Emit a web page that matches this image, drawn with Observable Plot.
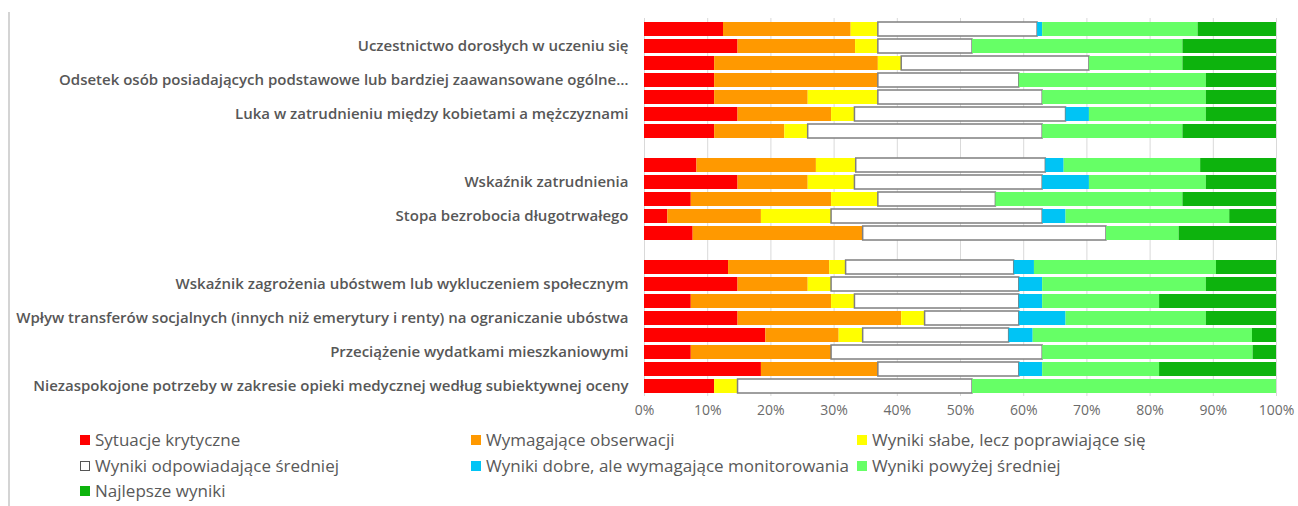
<!DOCTYPE html>
<html>
<head>
<meta charset="utf-8">
<script src="https://cdn.jsdelivr.net/npm/d3@7"></script>
<script src="https://cdn.jsdelivr.net/npm/@observablehq/plot@0.6"></script>
<style>
  html, body { margin: 0; padding: 0; background: #fff; }
  #wrap { position: relative; width: 1298px; height: 506px; overflow: hidden; font-family: "Open Sans", sans-serif; }
  #frame { position: absolute; left: 8px; top: 12px; width: 2px; height: 494px; background: #d4d4d4; }
  #chart { position: absolute; left: 0; top: 0; }
  #legend { position: absolute; left: 0; top: 429px; width: 1298px; }
  .item { position: absolute; display: flex; align-items: center; font-size: 17px; line-height: 22px; color: #595959; white-space: nowrap; }
  .sw { width: 10px; height: 10px; margin-right: 5px; box-sizing: border-box; }
</style>
</head>
<body>
<div id="wrap">
  <div id="frame"></div>
  <div id="chart"></div>
  <div id="legend"></div>
</div>
<script>
// Categories (legend order) and their colours
const categories = [
  "Sytuacje krytyczne",
  "Wymagające obserwacji",
  "Wyniki słabe, lecz poprawiające się",
  "Wyniki odpowiadające średniej",
  "Wyniki dobre, ale wymagające monitorowania",
  "Wyniki powyżej średniej",
  "Najlepsze wyniki"
];
const colors = ["#ff0000", "#ff9900", "#ffff00", "#ffffff", "#00c4f5", "#66ff66", "#0db30d"];

// Bar labels (20 bars, top to bottom); "" = unlabeled bar
const labels = [
  "", "Uczestnictwo dorosłych w uczeniu się", "",
  "Odsetek osób posiadających podstawowe lub bardziej zaawansowane ogólne…", "",
  "Luka w zatrudnieniu między kobietami a mężczyznami", "",
  "", "Wskaźnik zatrudnienia", "", "Stopa bezrobocia długotrwałego", "",
  "", "Wskaźnik zagrożenia ubóstwem lub wykluczeniem społecznym", "",
  "Wpływ transferów socjalnych (innych niż emerytury i renty) na ograniczanie ubóstwa", "",
  "Przeciążenie wydatkami mieszkaniowymi", "",
  "Niezaspokojone potrzeby w zakresie opieki medycznej według subiektywnej oceny"
];
// Group of each bar (blank row between groups)
const groups = [1,1,1,1,1,1,1, 2,2,2,2,2, 3,3,3,3,3,3,3,3];

// Shares (%) per category for each bar
const red    = [12.5,14.8,11.1,11.1,11.1,14.8,11.1,  8.3,14.8,7.4,3.7,7.7,  13.3,14.8,7.4,14.8,19.2,7.4,18.5,11.1];
const orange = [20.2,18.6,25.9,25.9,14.8,14.8,11.1,  18.9,11.1,22.2,14.8,26.9,  16.0,11.1,22.2,25.9,11.6,22.2,18.5,0];
const yellow = [4.3,3.6,3.7,0,11.1,3.7,3.7,  6.3,7.4,7.4,11.1,0,  2.6,3.7,3.7,3.7,3.8,0,0,3.7];
const white  = [25.2,14.9,29.7,22.3,26.0,33.4,37.1,  30.0,29.7,18.6,33.4,38.5,  26.6,29.7,26.0,14.9,23.1,33.4,22.3,37.1];
const blue   = [0.8,0,0,0,0,3.7,0,  2.9,7.4,0,3.7,0,  3.2,3.7,3.7,7.4,3.8,0,3.7,0];
const lgreen = [24.6,33.3,14.8,29.6,25.9,18.5,22.2,  21.6,18.5,29.6,25.9,11.5,  28.8,25.9,18.5,22.2,34.7,33.3,18.5,48.1];
const dgreen = [12.4,14.8,14.8,11.1,11.1,11.1,14.8,  12.0,11.1,14.8,7.4,15.4,  9.5,11.1,18.5,11.1,3.8,3.7,18.5,0];

const xTicks = [0,0.1,0.2,0.3,0.4,0.5,0.6,0.7,0.8,0.9,1];

// Build row layout: bars plus a blank row between groups
const rowOfBar = [];
const rowLabel = [];
let r = 0;
groups.forEach((g, i) => {
  if (i > 0 && g !== groups[i - 1]) { rowLabel.push(""); r++; }
  rowOfBar.push(r);
  rowLabel.push(labels[i]);
  r++;
});
const rowIds = d3.range(r);

const series = [red, orange, yellow, white, blue, lgreen, dgreen];
const data = [];
labels.forEach((_, i) => {
  series.forEach((s, k) => data.push({row: rowOfBar[i], cat: categories[k], value: s[i]}));
});

const chart = Plot.plot({
  width: 1298,
  height: 420,
  marginLeft: 644,
  marginRight: 22,
  marginTop: 18,
  marginBottom: 24,
  style: {fontFamily: "Open Sans, sans-serif", background: "transparent"},
  x: {domain: [0, 1]},
  y: {domain: rowIds, padding: 0.18},
  color: {domain: categories, range: colors},
  marks: [
    Plot.gridX(xTicks, {stroke: "#d9d9d9", strokeOpacity: 1, strokeWidth: 1}),
    Plot.barX(data, Plot.stackX({
      y: "row", x: "value", fill: "cat", offset: "normalize",
      stroke: "#7f7f7f", strokeWidth: 1.5,
      strokeOpacity: d => d.cat === categories[3] ? 1 : 0
    })),
    Plot.axisX({ticks: xTicks, tickFormat: d3.format(".0%"), tickSize: 0, tickPadding: 9, fontSize: 14, color: "#6b6b6b", label: null}),
    Plot.axisY({tickFormat: i => rowLabel[i], tickSize: 0, tickPadding: 16, fontSize: 15, fontWeight: 600, color: "#575757", label: null})
  ]
});
document.getElementById("chart").appendChild(chart);

// Legend
const legendPos = [
  [80, 0], [471, 0], [857, 0],
  [80, 25.5], [471, 25.5], [857, 25.5],
  [80, 51]
];
const legend = document.getElementById("legend");
categories.forEach((c, i) => {
  const it = document.createElement("div");
  it.className = "item";
  it.style.left = legendPos[i][0] + "px";
  it.style.top = legendPos[i][1] + "px";
  const sw = document.createElement("span");
  sw.className = "sw";
  sw.style.background = colors[i];
  if (i === 3) sw.style.border = "1.5px solid #555";
  it.appendChild(sw);
  it.appendChild(document.createTextNode(c));
  legend.appendChild(it);
});
</script>
</body>
</html>
